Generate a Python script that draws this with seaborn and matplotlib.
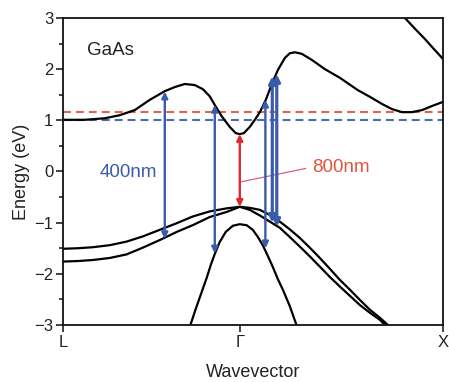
import matplotlib
matplotlib.use("Agg")
import matplotlib.pyplot as plt
import seaborn as sns
import pandas as pd
from matplotlib.patches import FancyArrowPatch

# Band structure of GaAs along L - Gamma - X (wavevector in units of 2*pi/a)
k_L, k_G, k_X = -0.87, 0.0, 1.0

# Lowest conduction band
cb_k = [-0.87, -0.764, -0.665, -0.591, -0.517, -0.443, -0.369, -0.320, -0.271, -0.222,
        -0.182, -0.148, -0.123, -0.089, -0.049, -0.020, 0.0, 0.020, 0.049, 0.074,
        0.099, 0.128, 0.158, 0.187, 0.222, 0.246, 0.271, 0.305, 0.355, 0.419,
        0.493, 0.581, 0.640, 0.700, 0.749, 0.798, 0.847, 0.897, 0.946, 1.0]
cb_E = [1.01, 1.01, 1.04, 1.10, 1.20, 1.40, 1.57, 1.65, 1.71, 1.69,
        1.61, 1.47, 1.30, 1.08, 0.87, 0.75, 0.73, 0.75, 0.87, 1.01,
        1.16, 1.40, 1.71, 1.98, 2.22, 2.31, 2.33, 2.30, 2.18, 2.00,
        1.83, 1.59, 1.46, 1.32, 1.22, 1.16, 1.16, 1.20, 1.28, 1.36]

# Second conduction band near X
cb2_k = [0.788, 0.813, 0.862, 0.911, 0.956, 1.0]
cb2_E = [3.10, 3.00, 2.79, 2.59, 2.39, 2.20]

# Heavy-hole band
hh_k = [-0.87, -0.798, -0.724, -0.640, -0.557, -0.478, -0.394, -0.310, -0.232, -0.148,
        -0.064, 0.0, 0.049, 0.099, 0.148, 0.197, 0.246, 0.296, 0.345, 0.394,
        0.443, 0.493, 0.542, 0.591, 0.640, 0.690, 0.729]
hh_E = [-1.51, -1.50, -1.48, -1.44, -1.37, -1.27, -1.14, -1.01, -0.88, -0.78,
        -0.72, -0.69, -0.71, -0.75, -0.85, -0.98, -1.13, -1.30, -1.49, -1.69,
        -1.90, -2.12, -2.31, -2.51, -2.70, -2.86, -3.00]

# Light-hole band
lh_k = [-0.87, -0.798, -0.724, -0.640, -0.557, -0.478, -0.394, -0.310, -0.232, -0.148,
        -0.064, 0.0, 0.049, 0.099, 0.148, 0.197, 0.246, 0.296, 0.345, 0.394,
        0.443, 0.493, 0.542, 0.591, 0.640, 0.690, 0.714]
lh_E = [-1.76, -1.75, -1.73, -1.69, -1.62, -1.49, -1.34, -1.18, -1.05, -0.89,
        -0.79, -0.69, -0.75, -0.86, -0.98, -1.10, -1.28, -1.47, -1.66, -1.86,
        -2.06, -2.25, -2.43, -2.61, -2.76, -2.90, -3.00]

# Split-off band
so_k = [-0.243, -0.217, -0.187, -0.163, -0.143, -0.123, -0.099, -0.069, -0.034, 0.0,
        0.034, 0.064, 0.089, 0.113, 0.138, 0.163, 0.187, 0.212, 0.246, 0.279]
so_E = [-3.00, -2.69, -2.35, -2.08, -1.83, -1.61, -1.38, -1.18, -1.06, -1.03,
        -1.05, -1.14, -1.28, -1.44, -1.65, -1.87, -2.10, -2.31, -2.63, -3.00]

# Photon energies: 800 nm (red) and 400 nm / 2 (blue) reference levels
E_800 = 1.17
E_400_half = 1.00

# Optical transitions: (k, E_low, E_high)
blue_k = [-0.369, -0.123, 0.126]
blue_lo = [-1.32, -1.60, -1.50]
blue_hi = [1.56, 1.30, 1.40]
thick_k = [0.160, 0.182]
thick_lo = [-1.00, -1.08]
thick_hi = [1.86, 1.90]
red_k = 0.0
red_lo, red_hi = -0.69, 0.73

tick_pos = [k_L, k_G, k_X]
tick_lab = ["L", "Γ", "X"]

BLUE = "#3a5ba9"
RED = "#e3262b"
RED_TXT = "#e2553a"
RED_DASH = "#e0654f"
BLUE_DASH = "#4a6cb4"

sns.set_theme(style="ticks")
plt.rcParams["font.family"] = ["Liberation Sans", "DejaVu Sans"]

fig = plt.figure(figsize=(4.49, 3.82), dpi=100)
ax = fig.add_axes([0.1403, 0.1492, 0.9866 - 0.1403, 0.9529 - 0.1492])

# Dashed reference levels
ax.axhline(E_800, color=RED_DASH, lw=1.5, dashes=(3.8, 2.4), zorder=1)
ax.axhline(E_400_half, color=BLUE_DASH, lw=1.5, dashes=(3.8, 2.4), zorder=1)

bands = [(cb_k, cb_E), (cb2_k, cb2_E), (hh_k, hh_E), (lh_k, lh_E), (so_k, so_E)]
for k, E in bands:
    df = pd.DataFrame({"k": k, "E": E})
    sns.lineplot(data=df, x="k", y="E", sort=False, estimator=None,
                 color="black", lw=1.6, ax=ax, zorder=2)


def transition(x, y0, y1, color, lw, ms):
    arr = FancyArrowPatch((x, y0), (x, y1), arrowstyle="<|-|>",
                          mutation_scale=ms, color=color, lw=lw,
                          shrinkA=0, shrinkB=0, zorder=4)
    ax.add_patch(arr)


for x, lo, hi in zip(blue_k, blue_lo, blue_hi):
    transition(x, lo, hi, BLUE, 1.7, 9)
for x, lo, hi in zip(thick_k, thick_lo, thick_hi):
    transition(x, lo, hi, BLUE, 2.3, 10)
transition(red_k, red_lo, red_hi, RED, 1.7, 9)

# Labels
ax.text(-0.754, 2.37, "GaAs", fontsize=13.5, color="#222222", ha="left", va="center")
ax.text(-0.690, -0.01, "400nm", fontsize=13.5, color=BLUE, ha="left", va="center")
ax.text(0.358, 0.07, "800nm", fontsize=13.5, color=RED_TXT, ha="left", va="center")
ax.plot([0.325, 0.008], [0.06, -0.20], color="#d9607a", lw=0.9, zorder=3)

ax.set_xlim(k_L, k_X)
ax.set_ylim(-3, 3)
ax.set_xticks(tick_pos)
ax.set_xticklabels(tick_lab)
ax.set_yticks([-3, -2, -1, 0, 1, 2, 3])
ax.set_yticks([-2.5, -1.5, -0.5, 0.5, 1.5, 2.5], minor=True)
ax.tick_params(axis="both", which="major", direction="out", length=5, width=1.2,
               labelsize=12, colors="#222222", pad=2)
ax.tick_params(axis="y", which="minor", direction="out", length=3, width=1.2,
               colors="#222222")
for s in ax.spines.values():
    s.set_linewidth(1.3)
    s.set_color("#111111")
    s.set_visible(True)

ax.set_xlabel("Wavevector", fontsize=13, color="#222222", labelpad=10)
ax.set_ylabel("Energy (eV)", fontsize=13, color="#222222", labelpad=3)

fig.savefig("out.png", dpi=100)
